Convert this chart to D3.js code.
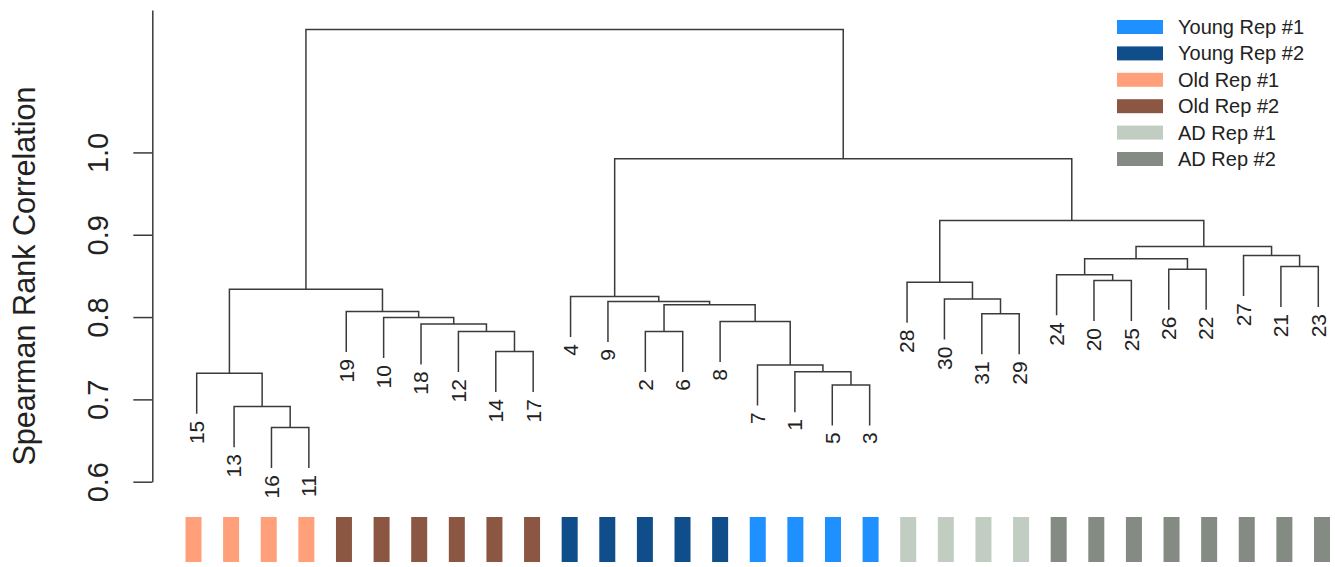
<!DOCTYPE html>
<html>
<head>
<meta charset="utf-8">
<script src="https://cdn.jsdelivr.net/npm/d3@7"></script>
<style>
  html, body { margin: 0; padding: 0; background: #fff; }
  svg { display: block; font-family: "Liberation Sans", Arial, sans-serif; }
</style>
</head>
<body>
<svg id="chart" width="1335" height="567"></svg>
<script>
// Hierarchical clustering (hclust-style merge table): negative = sample id, positive = earlier merge
const mergeLeft  = [-16, -13, -15, -14, -12, -18, -10, -19,  3,  -5,  -1,  -7,  -2,  -8, 13,  -9,  -4, -31, -30, -28, -20, -24, -26, 22, -21, -27, 24, 20, 17,  9];
const mergeRight = [-11,   1,   2, -17,   4,   5,   6,   7,  8,  -3,  10,  11,  -6,  12, 14,  15,  16, -29,  18,  19, -25,  21, -22, 23, -23,  25, 26, 27, 28, 29];
const mergeHeight = [0.6657, 0.6912, 0.7318, 0.7581, 0.7824, 0.7917, 0.7994, 0.8067, 0.8339,
                     0.7176, 0.7337, 0.7419, 0.7824, 0.7945, 0.8148, 0.8188, 0.8249,
                     0.8039, 0.8218, 0.8424, 0.8444, 0.8513, 0.8582, 0.8708, 0.8614, 0.8748, 0.8857, 0.9173,
                     0.9923, 1.1492];

// Sample groups (sample id -> group)
const groupNames = ["Young Rep #1", "Young Rep #2", "Old Rep #1", "Old Rep #2", "AD Rep #1", "AD Rep #2"];
const groupColors = ["#1E90FF", "#104E8B", "#FFA07A", "#8B5742", "#C1CDC1", "#838B83"];
const sampleGroup = {
  1: 0, 3: 0, 5: 0, 7: 0,
  2: 1, 4: 1, 6: 1, 8: 1, 9: 1,
  11: 2, 13: 2, 15: 2, 16: 2,
  10: 3, 12: 3, 14: 3, 17: 3, 18: 3, 19: 3,
  28: 4, 29: 4, 30: 4, 31: 4,
  20: 5, 21: 5, 22: 5, 23: 5, 24: 5, 25: 5, 26: 5, 27: 5
};

const yTicks = [0.6, 0.7, 0.8, 0.9, 1.0];
const yTitle = "Spearman Rank Correlation";
const hang = 0.0492;   // leaf drop below parent merge, in height units

const svg = d3.select("#chart");
const ink = "#3a3a3a";

// Leaf order from a left-first traversal of the tree
const nMerge = mergeHeight.length;
const order = [];
(function walk(k) {
  [mergeLeft[k - 1], mergeRight[k - 1]].forEach(c => {
    if (c < 0) order.push(-c); else walk(c);
  });
})(nMerge);

const x = d3.scalePoint().domain(order).range([196.7, 1318.3]);
const y = d3.scaleLinear().domain([0.6, 1.173]).range([481.7, 10]);

// node positions
const nodeX = new Array(nMerge + 1);
function childX(c) { return c < 0 ? x(-c) : nodeX[c]; }
for (let k = 1; k <= nMerge; k++) {
  nodeX[k] = (childX(mergeLeft[k - 1]) + childX(mergeRight[k - 1])) / 2;
}

// dendrogram links
const links = svg.append("g").attr("fill", "none").attr("stroke", ink).attr("stroke-width", 1.5);
for (let k = 1; k <= nMerge; k++) {
  const h = mergeHeight[k - 1];
  const l = mergeLeft[k - 1], r = mergeRight[k - 1];
  const yl = l < 0 ? h - hang : mergeHeight[l - 1];
  const yr = r < 0 ? h - hang : mergeHeight[r - 1];
  links.append("path")
    .attr("d", `M${childX(l)},${y(yl)}V${y(h)}H${childX(r)}V${y(yr)}`);
}

// leaf labels
const leafEnd = {};
for (let k = 1; k <= nMerge; k++) {
  [mergeLeft[k - 1], mergeRight[k - 1]].forEach(c => {
    if (c < 0) leafEnd[-c] = mergeHeight[k - 1] - hang;
  });
}
svg.append("g").selectAll("text").data(order).join("text")
  .attr("transform", d => `translate(${x(d)},${y(leafEnd[d]) + 7}) rotate(-90)`)
  .attr("text-anchor", "end")
  .attr("dy", "0.35em")
  .attr("font-size", 21)
  .attr("fill", "#222")
  .text(d => d);

// y axis
const axis = svg.append("g")
  .attr("transform", "translate(152.3,0)")
  .call(d3.axisLeft(y).tickValues(yTicks).tickSize(19).tickSizeOuter(0).tickFormat(d3.format(".1f")));
axis.select(".domain").attr("stroke", ink).attr("stroke-width", 1.5);
axis.selectAll(".tick line").attr("stroke", ink).attr("stroke-width", 1.5);
axis.selectAll(".tick text")
  .attr("transform", "rotate(-90)")
  .attr("x", 0).attr("y", -44).attr("dy", 0)
  .attr("text-anchor", "middle")
  .attr("font-size", 29)
  .attr("font-family", "Liberation Sans, Arial, sans-serif")
  .attr("fill", "#222");

svg.append("text")
  .attr("transform", "translate(35,276) rotate(-90)")
  .attr("text-anchor", "middle")
  .attr("font-size", 30.6)
  .attr("fill", "#222")
  .text(yTitle);

// group colour bars beneath the leaves
const xb = d3.scalePoint().domain(order).range([193.5, 1322]);
svg.append("g").selectAll("rect").data(order).join("rect")
  .attr("x", d => xb(d) - 8)
  .attr("y", 517)
  .attr("width", 16)
  .attr("height", 45)
  .attr("fill", d => groupColors[sampleGroup[d]]);

// legend
const legend = svg.append("g").attr("transform", "translate(1117,20)");
const items = legend.selectAll("g").data(groupNames).join("g")
  .attr("transform", (d, i) => `translate(0,${i * 26.4})`);
items.append("rect").attr("width", 46).attr("height", 14)
  .attr("fill", (d, i) => groupColors[i]);
items.append("text").attr("x", 61).attr("y", 7).attr("dy", "0.35em")
  .attr("font-size", 20).attr("fill", "#222").text(d => d);
</script>
</body>
</html>
